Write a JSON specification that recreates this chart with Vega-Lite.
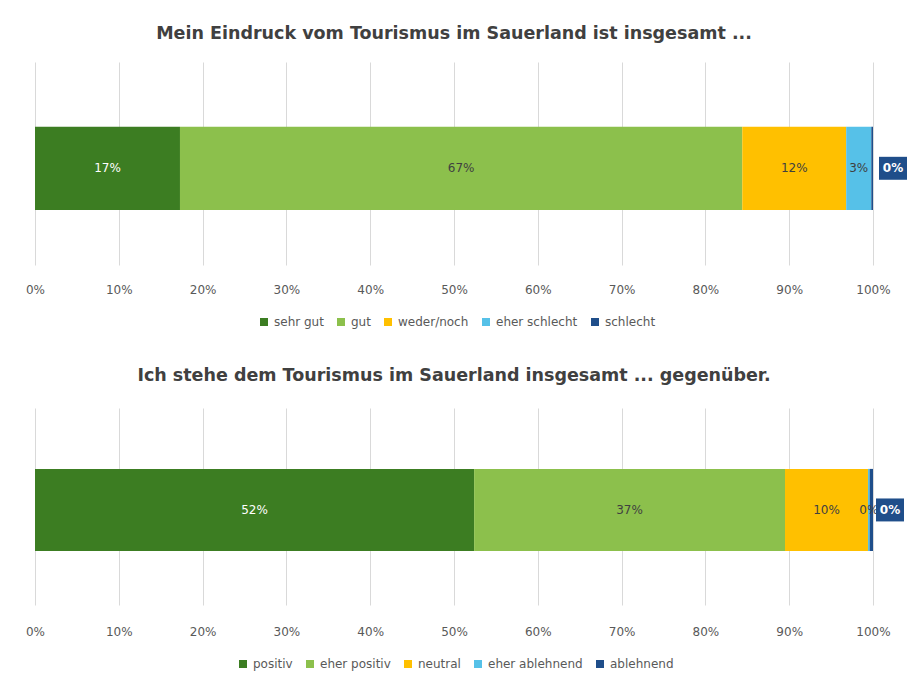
{
  "$schema": "https://vega.github.io/schema/vega-lite/v6.json",
  "padding": {"left": 25, "top": 24, "right": 5, "bottom": 5},
  "background": "white",
  "spacing": 38,
  "config": {
    "view": {"stroke": null},
    "font": "DejaVu Sans",
    "title": {"font": "DejaVu Sans", "fontSize": 17.5, "fontWeight": "bold", "color": "#404040", "anchor": "middle", "offset": 20},
    "axis": {"labelFont": "DejaVu Sans", "labelFontSize": 12, "labelColor": "#595959", "domain": false, "ticks": false, "gridColor": "#d9d9d9", "gridWidth": 1, "labelPadding": 19, "labelFlush": false},
    "legend": {"labelFont": "DejaVu Sans", "labelFontSize": 12, "labelColor": "#595959", "symbolType": "square", "symbolSize": 64, "symbolStrokeWidth": 0, "direction": "horizontal", "orient": "none", "columnPadding": 11, "labelOffset": 4, "title": null}
  },
  "resolve": {"scale": {"color": "independent"}, "legend": {"color": "independent"}},
  "vconcat": [
    {
      "width": 838,
      "height": 203,
      "title": "Mein Eindruck vom Tourismus im Sauerland ist insgesamt ...",
      "data": {"values": [
        {"q": "A", "k": "sehr gut", "i": 1, "v": 0.173},
        {"q": "A", "k": "gut", "i": 2, "v": 0.671},
        {"q": "A", "k": "weder/noch", "i": 3, "v": 0.124},
        {"q": "A", "k": "eher schlecht", "i": 4, "v": 0.030},
        {"q": "A", "k": "schlecht", "i": 5, "v": 0.002}
      ]},
      "transform": [
        {"stack": "v", "groupby": ["q"], "sort": [{"field": "i"}], "as": ["x0", "x1"]},
        {"calculate": "(datum.x0 + datum.x1) / 2", "as": "xm"}
      ],
      "encoding": {
        "y": {"field": "q", "type": "nominal", "axis": null, "scale": {"paddingOuter": 0.72, "paddingInner": 0, "align": 0.54}}
      },
      "layer": [
        {
          "mark": {"type": "bar"},
          "encoding": {
            "x": {"field": "x0", "type": "quantitative", "scale": {"domain": [0, 1], "nice": false}, "axis": {"title": null, "format": ".0%", "values": [0, 0.1, 0.2, 0.3, 0.4, 0.5, 0.6, 0.7, 0.8, 0.9, 1], "grid": true, "labelPadding": 19}},
            "x2": {"field": "x1"},
            "color": {"field": "k", "type": "nominal", "sort": ["sehr gut", "gut", "weder/noch", "eher schlecht", "schlecht"],
              "scale": {"domain": ["sehr gut", "gut", "weder/noch", "eher schlecht", "schlecht"], "range": ["#3C7D22", "#8CC04C", "#FFC000", "#56C1E8", "#1F4E8A"]},
              "legend": {"legendX": 223, "legendY": 254}}
          }
        },
        {
          "transform": [{"filter": "datum.i < 5"}],
          "mark": {"type": "text", "fontSize": 12, "font": "DejaVu Sans"},
          "encoding": {
            "x": {"field": "xm", "type": "quantitative"},
            "text": {"field": "v", "format": ".0%"},
            "color": {"condition": {"test": "datum.i == 1", "value": "#ffffff"}, "value": "#404040"}
          }
        },
        {
          "transform": [{"filter": "datum.i == 5"}],
          "mark": {"type": "point", "shape": "M-1,-0.82L1,-0.82L1,0.82L-1,0.82Z", "filled": true, "size": 784, "xOffset": 20, "color": "#1F4E8A", "opacity": 1, "strokeWidth": 0},
          "encoding": {"x": {"field": "x1", "type": "quantitative"}}
        },
        {
          "transform": [{"filter": "datum.i == 5"}],
          "mark": {"type": "text", "fontSize": 12, "fontWeight": "bold", "xOffset": 20, "color": "#ffffff"},
          "encoding": {"x": {"field": "x1", "type": "quantitative"}, "text": {"field": "v", "format": ".0%"}}
        }
      ]
    },
    {
      "width": 838,
      "height": 197,
      "title": {"text": "Ich stehe dem Tourismus im Sauerland insgesamt ... gegenüber.", "offset": 24},
      "data": {"values": [
        {"q": "B", "k": "positiv", "i": 1, "v": 0.524},
        {"q": "B", "k": "eher positiv", "i": 2, "v": 0.371},
        {"q": "B", "k": "neutral", "i": 3, "v": 0.099},
        {"q": "B", "k": "eher ablehnend", "i": 4, "v": 0.002},
        {"q": "B", "k": "ablehnend", "i": 5, "v": 0.004}
      ]},
      "transform": [
        {"stack": "v", "groupby": ["q"], "sort": [{"field": "i"}], "as": ["x0", "x1"]},
        {"calculate": "(datum.x0 + datum.x1) / 2", "as": "xm"}
      ],
      "encoding": {
        "y": {"field": "q", "type": "nominal", "axis": null, "scale": {"paddingOuter": 0.7, "paddingInner": 0, "align": 0.53}}
      },
      "layer": [
        {
          "mark": {"type": "bar"},
          "encoding": {
            "x": {"field": "x0", "type": "quantitative", "scale": {"domain": [0, 1], "nice": false}, "axis": {"title": null, "format": ".0%", "values": [0, 0.1, 0.2, 0.3, 0.4, 0.5, 0.6, 0.7, 0.8, 0.9, 1], "grid": true, "labelPadding": 21}},
            "x2": {"field": "x1"},
            "color": {"field": "k", "type": "nominal", "sort": ["positiv", "eher positiv", "neutral", "eher ablehnend", "ablehnend"],
              "scale": {"domain": ["positiv", "eher positiv", "neutral", "eher ablehnend", "ablehnend"], "range": ["#3C7D22", "#8CC04C", "#FFC000", "#56C1E8", "#1F4E8A"]},
              "legend": {"legendX": 202, "legendY": 250}}
          }
        },
        {
          "transform": [{"filter": "datum.i < 5"}],
          "mark": {"type": "text", "fontSize": 12, "font": "DejaVu Sans"},
          "encoding": {
            "x": {"field": "xm", "type": "quantitative"},
            "text": {"field": "v", "format": ".0%"},
            "color": {"condition": {"test": "datum.i == 1", "value": "#ffffff"}, "value": "#404040"}
          }
        },
        {
          "transform": [{"filter": "datum.i == 5"}],
          "mark": {"type": "point", "shape": "M-1,-0.82L1,-0.82L1,0.82L-1,0.82Z", "filled": true, "size": 784, "xOffset": 17, "color": "#1F4E8A", "opacity": 1, "strokeWidth": 0},
          "encoding": {"x": {"field": "x1", "type": "quantitative"}}
        },
        {
          "transform": [{"filter": "datum.i == 5"}],
          "mark": {"type": "text", "fontSize": 12, "fontWeight": "bold", "xOffset": 17, "color": "#ffffff"},
          "encoding": {"x": {"field": "x1", "type": "quantitative"}, "text": {"field": "v", "format": ".0%"}}
        }
      ]
    }
  ]
}
